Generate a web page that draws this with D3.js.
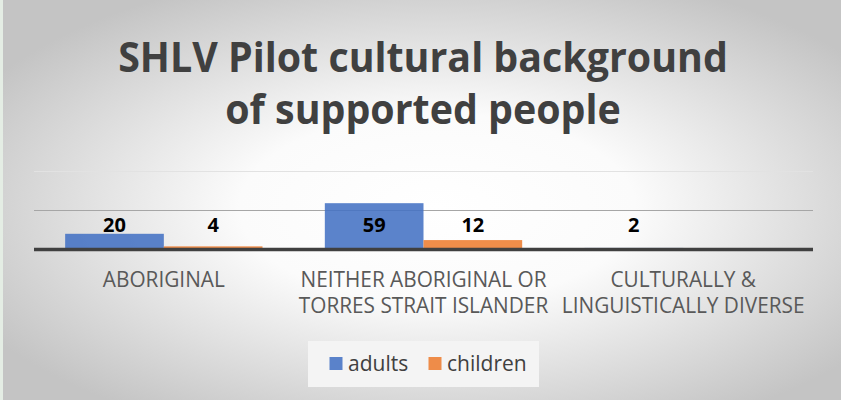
<!DOCTYPE html>
<html><head><meta charset="utf-8">
<script src="https://cdn.jsdelivr.net/npm/d3@7"></script>
<style>html,body{margin:0;padding:0;background:#fff;}svg{display:block;}</style>
</head><body>
<script>
const categories = [["ABORIGINAL"], ["NEITHER ABORIGINAL OR", "TORRES STRAIT ISLANDER"], ["CULTURALLY &", "LINGUISTICALLY DIVERSE"]];
const seriesNames = ["adults", "children"];
const adults = [20, 59, 2];
const children = [4, 12, null];
const yTicks = [0, 50, 100];
const titleLines = ["SHLV Pilot cultural background", "of supported people"];
const colors = ["#4472C4", "#ED7D31"];

const W = 841, H = 400;
const svg = d3.select("body").append("svg").attr("width", W).attr("height", H);
const defs = svg.append("defs");
const grad = defs.append("radialGradient").attr("id", "bg").attr("cx", "52%").attr("cy", "52%").attr("r", "62%");
grad.append("stop").attr("offset", "0").attr("stop-color", "#ffffff");
grad.append("stop").attr("offset", "0.38").attr("stop-color", "#fbfbfb");
grad.append("stop").attr("offset", "1").attr("stop-color", "#c4c4c4");
svg.append("rect").attr("width", W).attr("height", H).attr("fill", "url(#bg)");
svg.append("rect").attr("width", 3).attr("height", H).attr("fill", "#e4ede4");

const font = "'Open Sans', sans-serif";
function squeeze(k) {
  return sel => sel.each(function() {
    const w = this.getComputedTextLength();
    d3.select(this).attr("textLength", w * k).attr("lengthAdjust", "spacingAndGlyphs");
  });
}

// title
svg.append("g").selectAll("text").data(titleLines).join("text")
  .attr("x", 423).attr("y", (d, i) => 72 + i * 52)
  .attr("text-anchor", "middle").attr("font-family", font).attr("font-weight", "bold")
  .attr("font-size", 41).attr("fill", "#404040").text(d => d).call(squeeze(0.96));

const x0 = d3.scaleBand().domain(d3.range(categories.length)).range([34, 813]);
const x1 = d3.scaleBand().domain(seriesNames)
  .range([x0.bandwidth() * 0.12, x0.bandwidth() * 0.88]).padding(0);
const y = d3.scaleLinear().domain([0, 100]).range([249.5, 171]);

// gridlines
svg.append("g").selectAll("line").data(yTicks.filter(t => t > 0)).join("line")
  .attr("x1", 34).attr("x2", 813).attr("y1", d => Math.round(y(d)) + 0.5).attr("y2", d => Math.round(y(d)) + 0.5)
  .attr("stroke", (d, i) => i === 0 ? "#a6a6a6" : "#e2e2e2").attr("stroke-width", 1);

const rows = categories.map((c, i) => ({ i, vals: [adults[i], children[i]] }));
const groups = svg.append("g").selectAll("g").data(rows).join("g")
  .attr("transform", d => `translate(${x0(d.i)},0)`);
groups.selectAll("rect").data(d => d.vals.map((v, j) => ({ v, s: seriesNames[j], j })).filter(d => d.v != null)).join("rect")
  .attr("x", d => x1(d.s)).attr("width", x1.bandwidth())
  .attr("y", d => y(d.v)).attr("height", d => y(0) - y(d.v))
  .attr("fill", d => colors[d.j]).attr("fill-opacity", 0.88);
groups.selectAll("text").data(d => d.vals.map((v, j) => ({ v, s: seriesNames[j], j })).filter(d => d.v != null)).join("text")
  .attr("x", d => x1(d.s) + x1.bandwidth() / 2).attr("y", 232)
  .attr("text-anchor", "middle").attr("font-family", font).attr("font-weight", "bold")
  .attr("font-size", 20).attr("fill", "#000").text(d => d.v);

// baseline axis
svg.append("line").attr("x1", 34).attr("x2", 813).attr("y1", y(0)).attr("y2", y(0))
  .attr("stroke", "#404040").attr("stroke-width", 3.5);

// category labels
const cl = svg.append("g").selectAll("g").data(categories).join("g")
  .attr("transform", (d, i) => `translate(${x0(i) + x0.bandwidth() / 2},0)`);
cl.selectAll("text").data(d => d).join("text")
  .attr("x", 0).attr("y", (d, i) => 287 + i * 26)
  .attr("text-anchor", "middle").attr("font-family", font).attr("font-size", 21)
  .attr("fill", "#595959").text(d => d).call(squeeze(0.99));

// legend
const leg = svg.append("g");
leg.append("rect").attr("x", 308).attr("y", 341).attr("width", 231).attr("height", 46).attr("fill", "#f4f4f4");
const li = leg.selectAll("g").data(seriesNames).join("g")
  .attr("transform", (d, i) => `translate(${[329.5, 428.5][i]},0)`);
li.append("rect").attr("x", 0).attr("y", 357).attr("width", 13).attr("height", 13)
  .attr("fill", (d, i) => colors[i]).attr("fill-opacity", 0.88);
li.append("text").attr("x", 18.5).attr("y", 371).attr("font-family", font).attr("font-size", 21)
  .attr("fill", "#404040").text(d => d);
</script>
</body></html>
